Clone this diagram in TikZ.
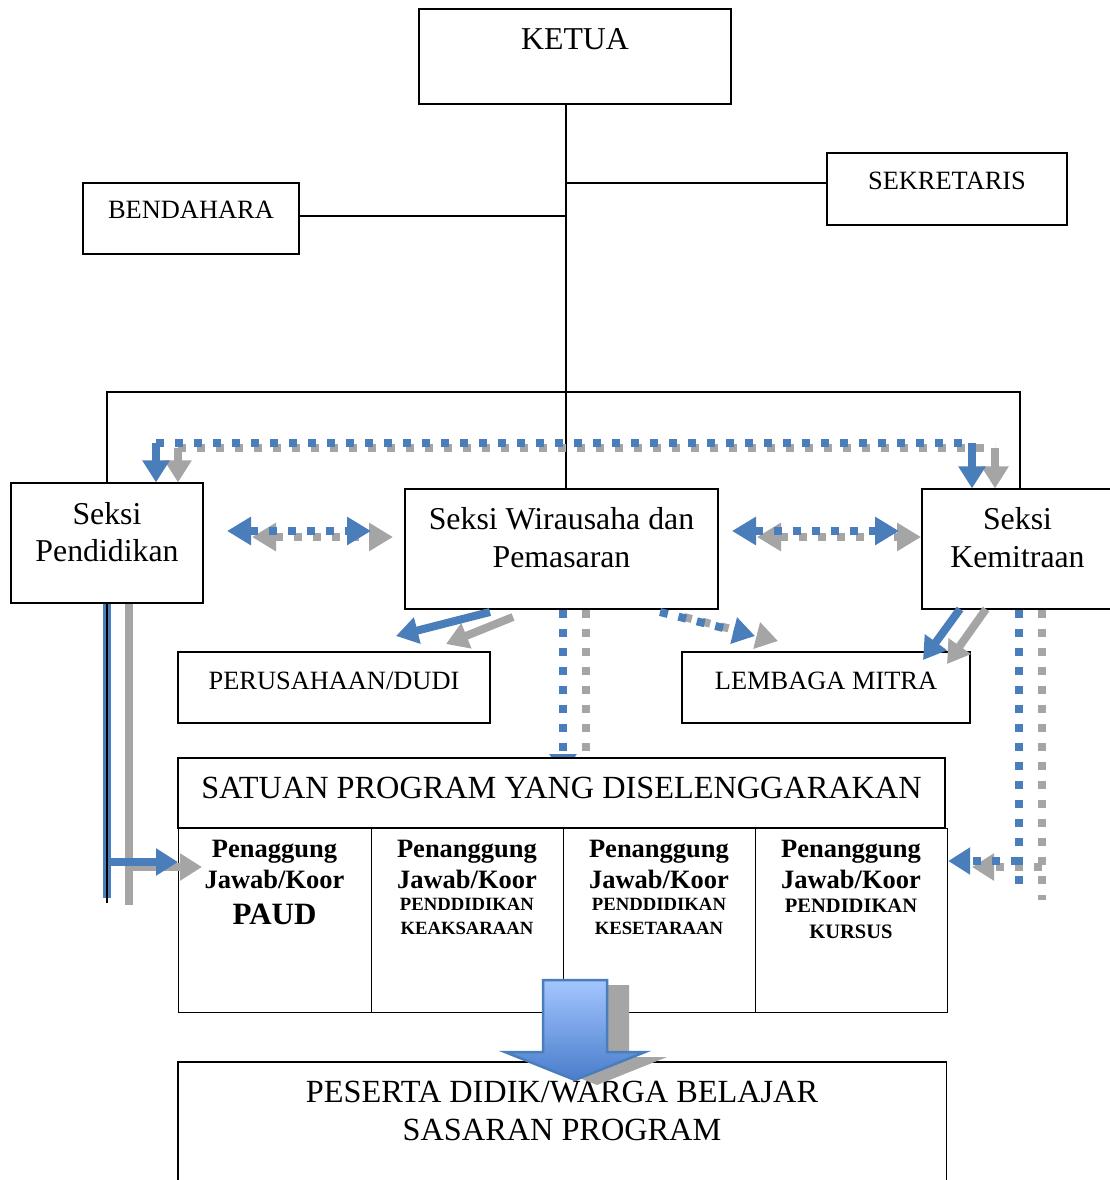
\documentclass[tikz,border=0pt]{standalone}
\usepackage{fontspec}
\setmainfont{Liberation Serif}
\usetikzlibrary{arrows.meta,calc}
\definecolor{myblue}{HTML}{4A7EBB}
\definecolor{mygray}{HTML}{A5A5A5}
\definecolor{arrtop}{HTML}{A3C6FF}
\definecolor{arrbot}{HTML}{4A7DCB}
\definecolor{arredge}{HTML}{4A7EBB}
\begin{document}
\begin{tikzpicture}[x=1pt,y=-1pt,
 box/.style={draw,line width=1.2pt,fill=white,inner sep=0pt},
 big/.style={font=\fontsize{31.8}{36}\selectfont,anchor=base,inner sep=0pt},
 wide/.style={font=\fontsize{32.3}{36}\selectfont,anchor=base,inner sep=0pt},
 mid/.style={font=\fontsize{26.4}{30}\selectfont,anchor=base,inner sep=0pt},
 tb/.style={font=\fontsize{26.5}{30}\selectfont\bfseries,anchor=base,inner sep=0pt},
 sm/.style={font=\fontsize{18.7}{22}\selectfont\bfseries,anchor=base,inner sep=0pt},
 smb/.style={font=\fontsize{20.5}{24}\selectfont\bfseries,anchor=base,inner sep=0pt},
 ln/.style={line width=1.2pt},
 bl/.style={draw=myblue,line width=8pt},
 gr/.style={draw=mygray,line width=8pt},
 dotd/.style={dash pattern=on 8pt off 11pt},
 tip/.style={-{Triangle[length=22pt,width=26pt]}},
 tips/.style={{Triangle[length=24pt,width=27pt]}-{Triangle[length=24pt,width=27pt]}},
]
\useasboundingbox[fill=white] (0,0) rectangle (1110,1180);

% ---------- top boxes ----------
\node[box,minimum width=312pt,minimum height=95pt] (ketua) at (575,56.5) {};
\node[big] (ketuaT) at (575,50) {KETUA};
\node[box,minimum width=240pt,minimum height=72pt] (sek) at (947,189) {};
\node[mid] (sekT) at (947,189) {SEKRETARIS};
\node[box,minimum width=216pt,minimum height=71pt] (bend) at (191,218.5) {};
\node[mid] (bendT) at (191,218) {BENDAHARA};

% ---------- seksi boxes ----------
\node[box,minimum width=192pt,minimum height=120pt] (pend) at (107,543) {};
\node[big] (pendT1) at (107,524) {Seksi};
\node[big] (pendT2) at (107,561) {Pendidikan};
\node[box,minimum width=313pt,minimum height=120pt] (wira) at (561.5,549) {};
\node[big] (wiraT1) at (561.5,529) {Seksi Wirausaha dan};
\node[big] (wiraT2) at (561.5,567) {Pemasaran};
\node[box,minimum width=191pt,minimum height=120pt] (kemi) at (1017.5,549) {};
\node[big] (kemiT1) at (1017.5,529) {Seksi};
\node[big] (kemiT2) at (1017.5,567) {Kemitraan};

% ---------- org lines ----------
\coordinate (jn) at (566,392);
\coordinate (js) at (566,183);
\coordinate (jb) at (566,216);
\coordinate (jl) at (107,392);
\coordinate (jr) at (1020,392);
\draw[ln] (ketua.south -| jn) -- (wira.north -| jn);
\draw[ln] (js) -- (js -| sek.west);
\draw[ln] (jb) -- (jb -| bend.east);
\draw[ln] (jl |- pend.north) -- (jl) -- (jr) -- (jr |- kemi.north);

% ---------- partner boxes ----------
\node[box,minimum width=312pt,minimum height=71pt] (per) at (334,687.5) {};
\node[mid] (perT) at (334,689) {PERUSAHAAN/DUDI};
\node[box,minimum width=288pt,minimum height=71pt] (lem) at (826,687.5) {};
\node[mid] (lemT) at (826,689) {LEMBAGA MITRA};

% ---------- wira down arrows (behind table) ----------
\coordinate (wdB) at (563,776);
\coordinate (wdG) at (586,782);
\draw[gr,dotd,tip] (wira.south -| wdG) -- (wdG);
\draw[bl,dotd,tip] (wira.south -| wdB) -- (wdB);

% ---------- program table ----------
\node[box,minimum width=767pt,minimum height=70pt] (sat) at (561.5,793) {};
\node[wide] (satT) at (561.5,798) {SATUAN PROGRAM YANG DISELENGGARAKAN};
\node[box,minimum width=193pt,minimum height=184pt,anchor=north west] (c1) at (178,828) {};
\node[box,minimum width=192pt,minimum height=184pt,anchor=north west] (c2) at (371,828) {};
\node[box,minimum width=192pt,minimum height=184pt,anchor=north west] (c3) at (563,828) {};
\node[box,minimum width=192pt,minimum height=184pt,anchor=north west] (c4) at (755,828) {};

\node[tb] (c1a) at (274.5,857) {Penaggung};
\node[tb] (c1b) at (274.5,888) {Jawab/Koor};
\node[font=\fontsize{31}{36}\selectfont\bfseries,anchor=base,inner sep=0pt] (c1c) at (274.5,924) {PAUD};

\node[tb] (c2a) at (467,857) {Penanggung};
\node[tb] (c2b) at (467,888) {Jawab/Koor};
\node[sm] (c2c) at (467,910) {PENDDIDIKAN};
\node[sm] (c2d) at (467,934) {KEAKSARAAN};

\node[tb] (c3a) at (659,857) {Penanggung};
\node[tb] (c3b) at (659,888) {Jawab/Koor};
\node[sm] (c3c) at (659,910) {PENDDIDIKAN};
\node[sm] (c3d) at (659,934) {KESETARAAN};

\node[tb] (c4a) at (851,857) {Penanggung};
\node[tb] (c4b) at (851,888) {Jawab/Koor};
\node[smb] (c4c) at (851,912) {PENDIDIKAN};
\node[smb] (c4d) at (851,938) {KURSUS};

% ---------- peserta box (open at the bottom edge) ----------
\node[inner sep=0pt,minimum width=768pt,minimum height=130pt,anchor=north west] (pes) at (178,1062) {};
\draw[ln] (pes.south west) |- (pes.north east) -- (pes.south east);
\node[wide] (pesT1) at (562,1102) {PESERTA DIDIK/WARGA BELAJAR};
\node[wide] (pesT2) at (562,1140) {SASARAN PROGRAM};

% ---------- top dotted link between Pendidikan and Kemitraan ----------
\coordinate (tgl) at (178,448);
\coordinate (tgr) at (995,448);
\coordinate (tbl) at (156,443);
\coordinate (tbr) at (972,443);
\draw[gr,dotd] (tgl) -- (tgr);
\draw[gr,tip] (tgl) -- (tgl |- pend.north);
\draw[gr,tip] (tgr) -- (tgr |- kemi.north);
\draw[bl,dotd] (tbl) -- (tbr);
\draw[bl,tip] (tbl) -- (tbl |- pend.north);
\draw[bl,tip] (tbr) -- (tbr |- kemi.north);

% ---------- horizontal double arrows ----------
\coordinate (h1gl) at (252,537); \coordinate (h1gr) at (393,537);
\coordinate (h1bl) at (227,531); \coordinate (h1br) at (371,531);
\draw[gr,dotd,tips] (h1gl) -- (h1gr);
\draw[bl,dotd,tips] (h1bl) -- (h1br);
\coordinate (h2gl) at (757,537); \coordinate (h2gr) at (921,537);
\coordinate (h2bl) at (732,531); \coordinate (h2br) at (899,531);
\draw[gr,dotd,tips] (h2gl) -- (h2gr);
\draw[bl,dotd,tips] (h2bl) -- (h2br);

% ---------- Wirausaha to Perusahaan / Lembaga ----------
\coordinate (wpG0) at (513,617); \coordinate (wpG1) at (446,644);
\coordinate (wpB0) at (490,612); \coordinate (wpB1) at (396,636);
\draw[gr,tip] (wpG0) -- (wpG1);
\draw[bl,tip] (wpB0) -- (wpB1);
\coordinate (wlG0) at (684,617); \coordinate (wlG1) at (778,641);
\coordinate (wlB0) at (660,612); \coordinate (wlB1) at (755,636);
\draw[gr,dotd,tip] (wlG0) -- (wlG1);
\draw[bl,dotd,tip] (wlB0) -- (wlB1);

% ---------- Kemitraan to Lembaga ----------
\coordinate (klG0) at (986,609); \coordinate (klG1) at (947,664);
\coordinate (klB0) at (960,609); \coordinate (klB1) at (923,660);
\draw[gr,tip] (klG0) -- (klG1);
\draw[bl,tip] (klB0) -- (klB1);

% ---------- Kemitraan down to Kursus ----------
\coordinate (kvG) at (1042,900);
\coordinate (kvB) at (1019,893);
\coordinate (khG) at (1042,867);
\coordinate (khB) at (1019,861);
\coordinate (khGt) at (972,867);
\draw[gr,dotd] (kemi.south -| kvG) -- (kvG);
\draw[gr,dotd,tip] (khG) -- (khGt);
\draw[bl,dotd] (kemi.south -| kvB) -- (kvB);
\draw[bl,dotd,tip] (khB) -- (khB -| c4.east);

% ---------- Pendidikan down to PAUD ----------
\coordinate (pvG) at (129,905);
\coordinate (pvB) at (107,898);
\coordinate (phG) at (129,867);
\coordinate (phB) at (107,862);
\coordinate (phGt) at (202,867);
\draw[gr] (pend.south -| pvG) -- (pvG);
\draw[gr,tip] (phG) -- (phGt);
\draw[bl] (pend.south -| pvB) -- (pvB);
\draw[bl,tip] (phB) -- (phB -| c1.west);
\coordinate (pvK) at (107,903);
\draw[ln] (pend.south) -- (pvK);

% ---------- big block arrow ----------
\fill[mygray,shift={(597,985)}] (-32,0) -- (32,0) -- (32,72) -- (70,72) -- (0,100) -- (-70,72) -- (-32,72) -- cycle;
\path[draw=arredge,line width=2.5pt,top color=arrtop,bottom color=arrbot,shift={(575,980)}]
  (-32,0) -- (32,0) -- (32,72) -- (70,72) -- (0,100) -- (-70,72) -- (-32,72) -- cycle;
\end{tikzpicture}
\end{document}
